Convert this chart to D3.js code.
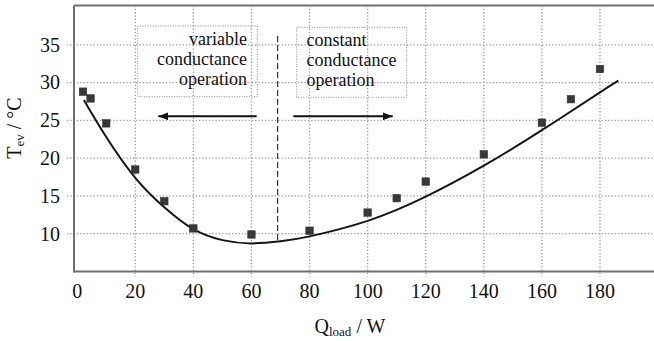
<!DOCTYPE html>
<html>
<head>
<meta charset="utf-8">
<script src="https://cdn.jsdelivr.net/npm/d3@7"></script>
<style>
    body { margin: 0; background: #fff; }
</style>
</head>
<body>
<div id="chart"></div>
<script>
// measured points
var qLoad = [2, 4.6, 10, 20, 30, 40, 60, 80, 100, 110, 120, 140, 160, 170, 180];
var tEv = [28.8, 27.9, 24.6, 18.5, 14.3, 10.7, 9.9, 10.4, 12.8, 14.7, 16.9, 20.5, 24.7, 27.8, 31.8];

// fitted curve
var fitQ = [2.3, 10, 20, 30, 40, 50, 60, 70, 80, 100, 120, 140, 160, 180, 186.3];
var fitT = [27.7, 22.8, 17.4, 13.5, 10.6, 9.15, 8.72, 9.0, 9.65, 11.7, 14.9, 19.0, 23.7, 28.7, 30.25];

var xTicks = [0, 20, 40, 60, 80, 100, 120, 140, 160, 180];
var yTicks = [10, 15, 20, 25, 30, 35];

var leftLabel = ["variable", "conductance", "operation"];
var rightLabel = ["constant", "conductance", "operation"];
var switchQ = 69;

(function () {
    "use strict";
    var width = 654, height = 341;
    var left = 74, right = 654, top = 5.5, bottom = 271.5;
    var serif = "'Liberation Serif', 'Times New Roman', Times, 'DejaVu Serif', serif";

    var x = d3.scaleLinear().domain([-1.1, 198.6]).range([left, right]);
    var y = d3.scaleLinear().domain([5, 40.2]).range([bottom, top]);

    var svg = d3.select("#chart").append("svg")
        .attr("width", width)
        .attr("height", height)
        .style("display", "block")
        .style("font-family", serif);

    var gridColor = "#9a9a9a";

    //horizontal grid, runs a bit past the left border like a tick
    svg.append("g").selectAll("line")
        .data(yTicks)
        .enter()
        .append("line")
        .attr("x1", left - 7)
        .attr("x2", right)
        .attr("y1", function (d) { return y(d); })
        .attr("y2", function (d) { return y(d); })
        .attr("stroke", gridColor)
        .attr("stroke-width", 1.3)
        .attr("stroke-dasharray", "1.3,2");

    //vertical grid
    svg.append("g").selectAll("line")
        .data(xTicks.filter(function (d) { return d > 0; }))
        .enter()
        .append("line")
        .attr("x1", function (d) { return x(d); })
        .attr("x2", function (d) { return x(d); })
        .attr("y1", top)
        .attr("y2", bottom + 5)
        .attr("stroke", gridColor)
        .attr("stroke-width", 1.3)
        .attr("stroke-dasharray", "1.3,2");

    //frame: left, top, bottom
    var frame = svg.append("g")
        .attr("stroke", "#707070")
        .attr("stroke-width", 2);
    frame.append("line").attr("x1", left).attr("x2", left).attr("y1", top).attr("y2", bottom + 1);
    frame.append("line").attr("x1", left).attr("x2", right).attr("y1", top).attr("y2", top);
    frame.append("line").attr("x1", left).attr("x2", right).attr("y1", bottom).attr("y2", bottom);

    //tick labels
    svg.append("g").selectAll("text")
        .data(xTicks)
        .enter()
        .append("text")
        .attr("x", function (d) { return x(d); })
        .attr("y", 297.7)
        .attr("text-anchor", "middle")
        .attr("font-family", serif)
        .attr("font-size", "20px")
        .attr("fill", "#111")
        .text(function (d) { return d; });

    svg.append("g").selectAll("text")
        .data(yTicks)
        .enter()
        .append("text")
        .attr("x", 60)
        .attr("y", function (d) { return y(d) + 6.8; })
        .attr("text-anchor", "end")
        .attr("font-family", serif)
        .attr("font-size", "20px")
        .attr("fill", "#111")
        .text(function (d) { return d; });

    //axis titles
    var xTitle = svg.append("text")
        .attr("x", 350)
        .attr("y", 333)
        .attr("text-anchor", "middle")
        .attr("font-family", serif)
        .attr("font-size", "20px")
        .attr("fill", "#111");
    xTitle.append("tspan").text("Q");
    xTitle.append("tspan").attr("font-size", "13px").attr("dy", 3).text("load");
    xTitle.append("tspan").attr("dy", -3).text(" / W");

    var yTitle = svg.append("text")
        .attr("transform", "translate(20.5,128) rotate(-90)")
        .attr("text-anchor", "middle")
        .attr("font-family", serif)
        .attr("font-size", "20px")
        .attr("fill", "#111");
    yTitle.append("tspan").text("T");
    yTitle.append("tspan").attr("font-size", "13px").attr("dy", 3).text("ev");
    yTitle.append("tspan").attr("dy", -3).text(" / \u00b0C");

    //label boxes
    var boxStyle = function (sel) {
        sel.attr("fill", "none")
            .attr("stroke", "#8a8a8a")
            .attr("stroke-width", 1)
            .attr("stroke-dasharray", "1,1.5");
    };
    svg.append("rect")
        .attr("x", 137.7).attr("y", 26)
        .attr("width", 119.6).attr("height", 70.7)
        .call(boxStyle);
    svg.append("rect")
        .attr("x", 296.7).attr("y", 27.3)
        .attr("width", 110).attr("height", 70)
        .call(boxStyle);

    svg.append("g").selectAll("text")
        .data(leftLabel)
        .enter()
        .append("text")
        .attr("x", 247)
        .attr("y", function (d, i) { return 44.5 + i * 20.4; })
        .attr("text-anchor", "end")
        .attr("font-family", serif)
        .attr("font-size", "18px")
        .attr("fill", "#111")
        .text(function (d) { return d; });

    svg.append("g").selectAll("text")
        .data(rightLabel)
        .enter()
        .append("text")
        .attr("x", 306.5)
        .attr("y", function (d, i) { return 45.7 + i * 20.2; })
        .attr("font-family", serif)
        .attr("font-size", "18px")
        .attr("fill", "#111")
        .text(function (d) { return d; });

    //regime switch
    svg.append("line")
        .attr("x1", x(switchQ)).attr("x2", x(switchQ))
        .attr("y1", 36).attr("y2", 241)
        .attr("stroke", "#333")
        .attr("stroke-width", 1.2)
        .attr("stroke-dasharray", "6,3");

    //arrows
    var defs = svg.append("defs");
    defs.append("marker")
        .attr("id", "head")
        .attr("viewBox", "0 0 10 8")
        .attr("refX", 10).attr("refY", 4)
        .attr("markerWidth", 10).attr("markerHeight", 8)
        .attr("markerUnits", "userSpaceOnUse")
        .attr("orient", "auto")
        .append("path")
        .attr("d", "M0,0L10,4L0,8Z")
        .attr("fill", "#111");

    svg.append("line")
        .attr("x1", 256.7).attr("x2", 158.3)
        .attr("y1", 116.3).attr("y2", 116.3)
        .attr("stroke", "#111").attr("stroke-width", 2)
        .attr("marker-end", "url(#head)");
    svg.append("line")
        .attr("x1", 293.3).attr("x2", 392.7)
        .attr("y1", 116.3).attr("y2", 116.3)
        .attr("stroke", "#111").attr("stroke-width", 2)
        .attr("marker-end", "url(#head)");

    //fit curve
    var line = d3.line()
        .x(function (d) { return x(d[0]); })
        .y(function (d) { return y(d[1]); })
        .curve(d3.curveNatural);

    svg.append("path")
        .datum(d3.zip(fitQ, fitT))
        .attr("d", line)
        .attr("fill", "none")
        .attr("stroke", "#151515")
        .attr("stroke-width", 2);

    //points
    var s = 7.4;
    svg.append("g").selectAll("rect")
        .data(d3.zip(qLoad, tEv))
        .enter()
        .append("rect")
        .attr("x", function (d) { return x(d[0]) - s / 2; })
        .attr("y", function (d) { return y(d[1]) - s / 2; })
        .attr("width", s)
        .attr("height", s)
        .attr("fill", "#383838")
        .attr("stroke", "#2a2a2a")
        .attr("stroke-width", 0.6);
})();
</script>
</body>
</html>
